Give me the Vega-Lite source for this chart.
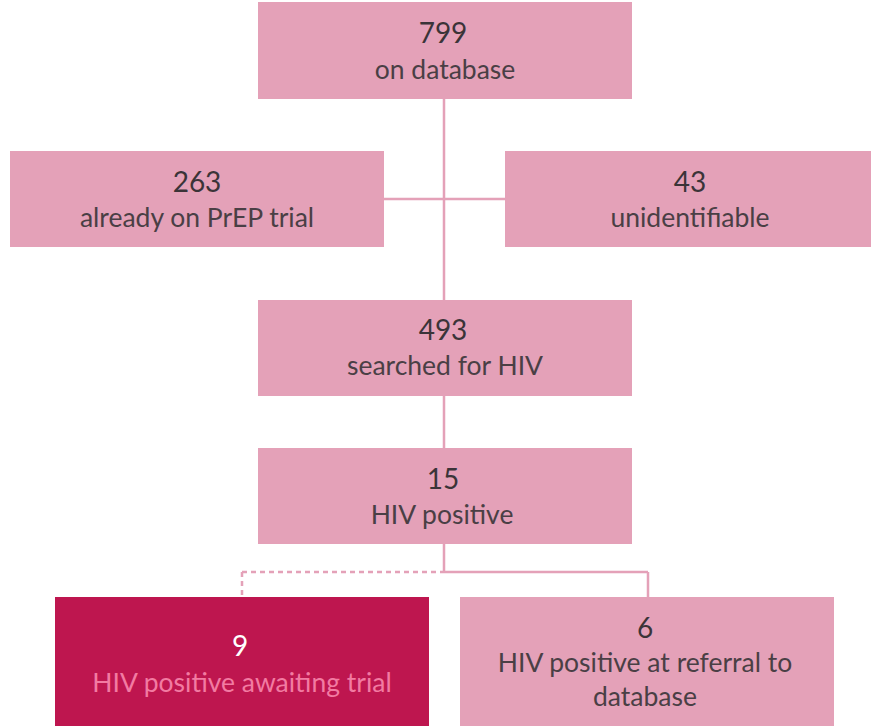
{
  "$schema": "https://vega.github.io/schema/vega-lite/v6.json",
  "width": 871,
  "height": 726,
  "autosize": {"type": "fit", "contains": "padding"},
  "padding": 0,
  "background": "white",
  "config": {"view": {"stroke": null}},
  "datasets": {
    "boxes": [
      {"id": "db", "x1": 258, "x2": 632, "y1": 2, "y2": 99, "kind": "light"},
      {"id": "prep", "x1": 10, "x2": 384, "y1": 151, "y2": 247, "kind": "light"},
      {"id": "unid", "x1": 505, "x2": 871, "y1": 151, "y2": 247, "kind": "light"},
      {"id": "search", "x1": 258, "x2": 632, "y1": 300, "y2": 396, "kind": "light"},
      {"id": "pos", "x1": 258, "x2": 632, "y1": 448, "y2": 544, "kind": "light"},
      {"id": "await", "x1": 55, "x2": 429, "y1": 597, "y2": 726, "kind": "dark"},
      {"id": "ref", "x1": 460, "x2": 834, "y1": 597, "y2": 726, "kind": "light"}
    ],
    "links": [
      {"x1": 444, "x2": 444, "y1": 99, "y2": 300, "style": "solid"},
      {"x1": 384, "x2": 505, "y1": 199, "y2": 199, "style": "solid"},
      {"x1": 444, "x2": 444, "y1": 396, "y2": 448, "style": "solid"},
      {"x1": 444, "x2": 444, "y1": 544, "y2": 572, "style": "solid"},
      {"x1": 444, "x2": 648, "y1": 572, "y2": 572, "style": "solid"},
      {"x1": 648, "x2": 648, "y1": 572, "y2": 597, "style": "solid"},
      {"x1": 242, "x2": 444, "y1": 572, "y2": 572, "style": "dashed"},
      {"x1": 242, "x2": 242, "y1": 572, "y2": 597, "style": "dashed"}
    ],
    "numbers": [
      {"label": "799", "x": 443, "y": 35, "kind": "light"},
      {"label": "263", "x": 197, "y": 184, "kind": "light"},
      {"label": "43", "x": 690, "y": 184, "kind": "light"},
      {"label": "493", "x": 443, "y": 332, "kind": "light"},
      {"label": "15", "x": 443, "y": 481, "kind": "light"},
      {"label": "9", "x": 240, "y": 648, "kind": "dark"},
      {"label": "6", "x": 645, "y": 630, "kind": "light"}
    ],
    "captions": [
      {"label": "on database", "x": 445, "y": 71, "kind": "light"},
      {"label": "already on PrEP trial", "x": 197, "y": 219, "kind": "light"},
      {"label": "unidentifiable", "x": 690, "y": 219, "kind": "light"},
      {"label": "searched for HIV", "x": 445, "y": 367, "kind": "light"},
      {"label": "HIV positive", "x": 442, "y": 516, "kind": "light"},
      {"label": "HIV positive awaiting trial", "x": 242, "y": 684, "kind": "dark"},
      {"label": "HIV positive at referral to\ndatabase", "x": 645, "y": 664, "kind": "light"}
    ]
  },
  "layer": [
    {
      "data": {"name": "boxes"},
      "mark": {"type": "rect"},
      "encoding": {
        "x": {"field": "x1", "type": "quantitative", "scale": {"domain": [0, 871], "nice": false, "zero": false}, "axis": null},
        "x2": {"field": "x2"},
        "y": {"field": "y1", "type": "quantitative", "scale": {"domain": [0, 726], "nice": false, "zero": false, "reverse": true}, "axis": null},
        "y2": {"field": "y2"},
        "color": {"field": "kind", "type": "nominal", "scale": {"domain": ["light", "dark"], "range": ["#E4A1B8", "#BE164F"]}, "legend": null}
      }
    },
    {
      "data": {"name": "links"},
      "mark": {"type": "rule", "strokeWidth": 2.5},
      "encoding": {
        "x": {"field": "x1", "type": "quantitative"},
        "x2": {"field": "x2"},
        "y": {"field": "y1", "type": "quantitative"},
        "y2": {"field": "y2"},
        "strokeDash": {"field": "style", "type": "nominal", "scale": {"domain": ["solid", "dashed"], "range": [[1, 0], [5, 4]]}, "legend": null},
        "stroke": {"value": "#E4A1B8"}
      }
    },
    {
      "data": {"name": "numbers"},
      "mark": {"type": "text", "font": "Lato", "fontSize": 28, "baseline": "middle", "align": "center"},
      "encoding": {
        "x": {"field": "x", "type": "quantitative"},
        "y": {"field": "y", "type": "quantitative"},
        "text": {"field": "label"},
        "color": {"field": "kind", "type": "nominal", "scale": {"domain": ["light", "dark"], "range": ["#3B3438", "#FFFFFF"]}, "legend": null}
      }
    },
    {
      "data": {"name": "captions"},
      "mark": {"type": "text", "font": "Lato", "fontSize": 26.5, "baseline": "middle", "align": "center", "lineBreak": "\n", "lineHeight": 34},
      "encoding": {
        "x": {"field": "x", "type": "quantitative"},
        "y": {"field": "y", "type": "quantitative"},
        "text": {"field": "label"},
        "color": {"field": "kind", "type": "nominal", "scale": {"domain": ["light", "dark"], "range": ["#4A3F45", "#F27BA2"]}, "legend": null}
      }
    }
  ],
  "resolve": {"scale": {"color": "independent"}}
}
